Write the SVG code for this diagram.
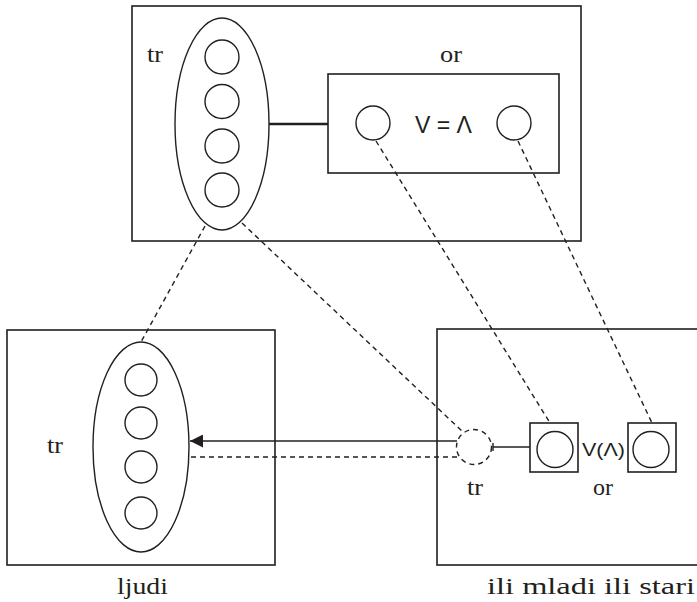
<svg xmlns="http://www.w3.org/2000/svg" width="697" height="602" viewBox="0 0 697 602">
<defs>
<style>
.box{fill:none;stroke:#231f20;stroke-width:1.6}
.ln{fill:none;stroke:#231f20;stroke-width:1.4}
.dash{fill:none;stroke:#231f20;stroke-width:1.4;stroke-dasharray:5,4}
.serif{font-family:"Liberation Serif","Times New Roman",serif;font-size:24px;fill:#231f20}
.sans{font-family:"Liberation Sans",Arial,sans-serif;fill:#231f20}
</style>
<marker id="ah" viewBox="0 0 10 10" refX="10" refY="5" markerWidth="13" markerHeight="13" markerUnits="userSpaceOnUse" orient="auto">
<path d="M0,0 L10,5 L0,10 Z" fill="#231f20"/>
</marker>
</defs>
<rect width="697" height="602" fill="#fff"/>

<g id="connectors">
<line class="dash" x1="205" y1="226" x2="141" y2="342"/>
<line class="dash" x1="242" y1="223" x2="464" y2="433"/>
<line class="dash" x1="376" y1="141" x2="550" y2="423"/>
<line class="dash" x1="518" y1="141" x2="652" y2="423"/>
<line class="ln" x1="457" y1="441" x2="190" y2="441" marker-end="url(#ah)"/>
<line class="dash" x1="457" y1="457" x2="189" y2="457"/>
<line x1="269" y1="124" x2="328" y2="124" stroke="#231f20" stroke-width="2.4"/>
<line class="ln" x1="493" y1="447" x2="530" y2="447"/>
<line class="ln" x1="493" y1="443" x2="493" y2="451"/>
</g>

<g id="top">
<rect class="box" x="132" y="6" width="449" height="235"/>
<text class="serif" x="147" y="62" textLength="16" lengthAdjust="spacingAndGlyphs">tr</text>
<text class="serif" x="440" y="62" textLength="22" lengthAdjust="spacingAndGlyphs">or</text>
</g>

<g id="top-tr">
<ellipse class="ln" cx="222" cy="124" rx="47" ry="106"/>
<circle class="ln" cx="222" cy="57" r="17"/>
<circle class="ln" cx="222" cy="101.5" r="17"/>
<circle class="ln" cx="222" cy="146" r="17"/>
<circle class="ln" cx="222" cy="190" r="17"/>
</g>

<g id="top-or">
<rect class="box" x="328" y="74" width="231" height="99"/>
<circle class="ln" cx="373" cy="123" r="17"/>
<circle class="ln" cx="514" cy="123" r="17"/>
<text class="sans" x="415" y="133" font-size="24" textLength="57" lengthAdjust="spacingAndGlyphs">V = Λ</text>
</g>

<g id="ljudi">
<rect class="box" x="7" y="330" width="268" height="235"/>
<text class="serif" x="47" y="453" textLength="16" lengthAdjust="spacingAndGlyphs">tr</text>
<ellipse class="ln" cx="141" cy="447" rx="48" ry="105"/>
<circle class="ln" cx="141" cy="380" r="16"/>
<circle class="ln" cx="141" cy="423" r="16"/>
<circle class="ln" cx="141" cy="467" r="16"/>
<circle class="ln" cx="141" cy="513" r="16"/>
<text class="serif" x="117" y="594" textLength="51" lengthAdjust="spacingAndGlyphs">ljudi</text>
</g>

<g id="mladi-stari">
<rect class="box" x="437" y="329" width="265" height="236"/>
<circle class="dash" cx="474" cy="447" r="17.5"/>
<text class="serif" x="467" y="495" textLength="16" lengthAdjust="spacingAndGlyphs">tr</text>
<rect class="box" x="530" y="423" width="48" height="49"/>
<circle class="ln" cx="555" cy="449.5" r="18"/>
<rect class="box" x="628" y="423" width="48" height="49"/>
<circle class="ln" cx="651" cy="449.5" r="18"/>
<text class="sans" x="582" y="456" font-size="19" textLength="43" lengthAdjust="spacingAndGlyphs">V(Λ)</text>
<text class="serif" x="593" y="495" textLength="20" lengthAdjust="spacingAndGlyphs">or</text>
<text class="serif" x="487" y="594" textLength="208" lengthAdjust="spacingAndGlyphs">ili mladi ili stari</text>
</g>
</svg>
